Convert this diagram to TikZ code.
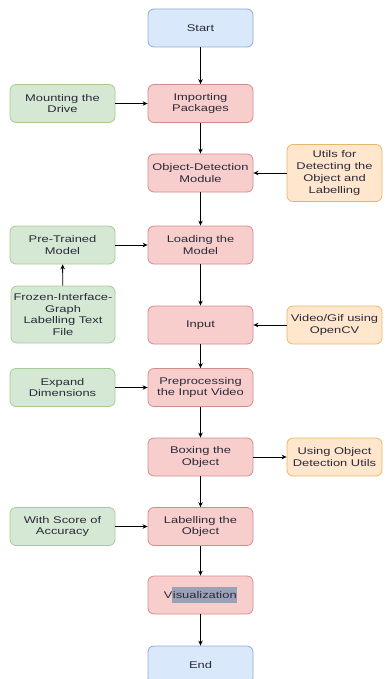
\documentclass[tikz,border=0pt]{standalone}
\usepackage{fontspec}
\setmainfont[FakeStretch=1.33]{Liberation Sans}
\usetikzlibrary{arrows.meta}
\definecolor{bfill}{HTML}{DAE8FC}\definecolor{bdraw}{HTML}{8FAAD8}
\definecolor{rfill}{HTML}{F8CECC}\definecolor{rdraw}{HTML}{D48C8A}
\definecolor{gfill}{HTML}{D5E8D4}\definecolor{gdraw}{HTML}{A6CC92}
\definecolor{ofill}{HTML}{FFE6CC}\definecolor{odraw}{HTML}{E8B866}
\definecolor{hl}{HTML}{9AA2B8}
\definecolor{txt}{HTML}{2A2A3A}
\begin{document}
\begin{tikzpicture}[x=1pt,y=-1pt,
  box/.style={rectangle,rounded corners=6pt,minimum width=105pt,minimum height=38pt,
    inner sep=1pt,align=center,line width=0.8pt,text=txt,
    font=\fontsize{9.7}{11.7}\selectfont},
  bluebox/.style={box,fill=bfill,draw=bdraw},
  redbox/.style={box,fill=rfill,draw=rdraw},
  greenbox/.style={box,fill=gfill,draw=gdraw},
  orangebox/.style={box,fill=ofill,draw=odraw,minimum width=95pt},
  arr/.style={-{Stealth[length=5pt,width=4.5pt]},line width=0.9pt,black}]
\useasboundingbox (0,0) rectangle (385,679);
% center column
\node[bluebox] (start) at (200.5,28) {Start};
\node[redbox] (imp) at (200.5,103.5) {Importing\\Packages};
\node[redbox] (od) at (200.5,173) {Object-Detection\\Module};
\node[redbox] (load) at (200.5,245) {Loading the\\Model};
\node[redbox] (input) at (200.5,325) {Input};
\node[redbox] (pre) at (200.5,387.5) {Preprocessing\\the Input Video};
\node[redbox] (boxo) at (200.5,457) {Boxing the\\Object};
\node[redbox] (lab) at (200.5,526.5) {Labelling the\\Object};
\node[redbox] (vis) at (200.5,595) {V{\setlength\fboxsep{0pt}\colorbox{hl}{\rule[-4.5pt]{0pt}{16pt}\kern0.5pt isualization\kern0.5pt}}};
\node[bluebox] (end) at (200.5,665) {End};
% left column
\node[greenbox] (mount) at (62.5,103.5) {Mounting the\\Drive};
\node[greenbox] (ptm) at (62.5,245) {Pre-Trained\\Model};
\node[greenbox,minimum height=57pt,minimum width=104pt] (frozen) at (63,314.5) {Frozen-Interface-\\Graph\\Labelling Text\\File};
\node[greenbox] (expand) at (62.5,387.5) {Expand\\Dimensions};
\node[greenbox] (score) at (62.5,526.5) {With Score of\\Accuracy};
% right column
\node[orangebox,minimum height=57pt] (utils) at (334.5,173) {Utils for\\Detecting the\\Object and\\Labelling};
\node[orangebox] (video) at (334.5,325) {Video/Gif using\\OpenCV};
\node[orangebox] (using) at (334.5,457) {Using Object\\Detection Utils};
% connectors
\draw[arr] (start) -- (imp);
\draw[arr] (imp) -- (od);
\draw[arr] (od) -- (load);
\draw[arr] (load) -- (input);
\draw[arr] (input) -- (pre);
\draw[arr] (pre) -- (boxo);
\draw[arr] (boxo) -- (lab);
\draw[arr] (lab) -- (vis);
\draw[arr] (vis) -- (end);
\draw[arr] (mount) -- (imp);
\draw[arr] (ptm) -- (load);
\draw[arr] (frozen) -- (ptm);
\draw[arr] (expand) -- (pre);
\draw[arr] (score) -- (lab);
\draw[arr] (utils) -- (od);
\draw[arr] (video) -- (input);
\draw[arr] (boxo) -- (using);
\end{tikzpicture}
\end{document}
